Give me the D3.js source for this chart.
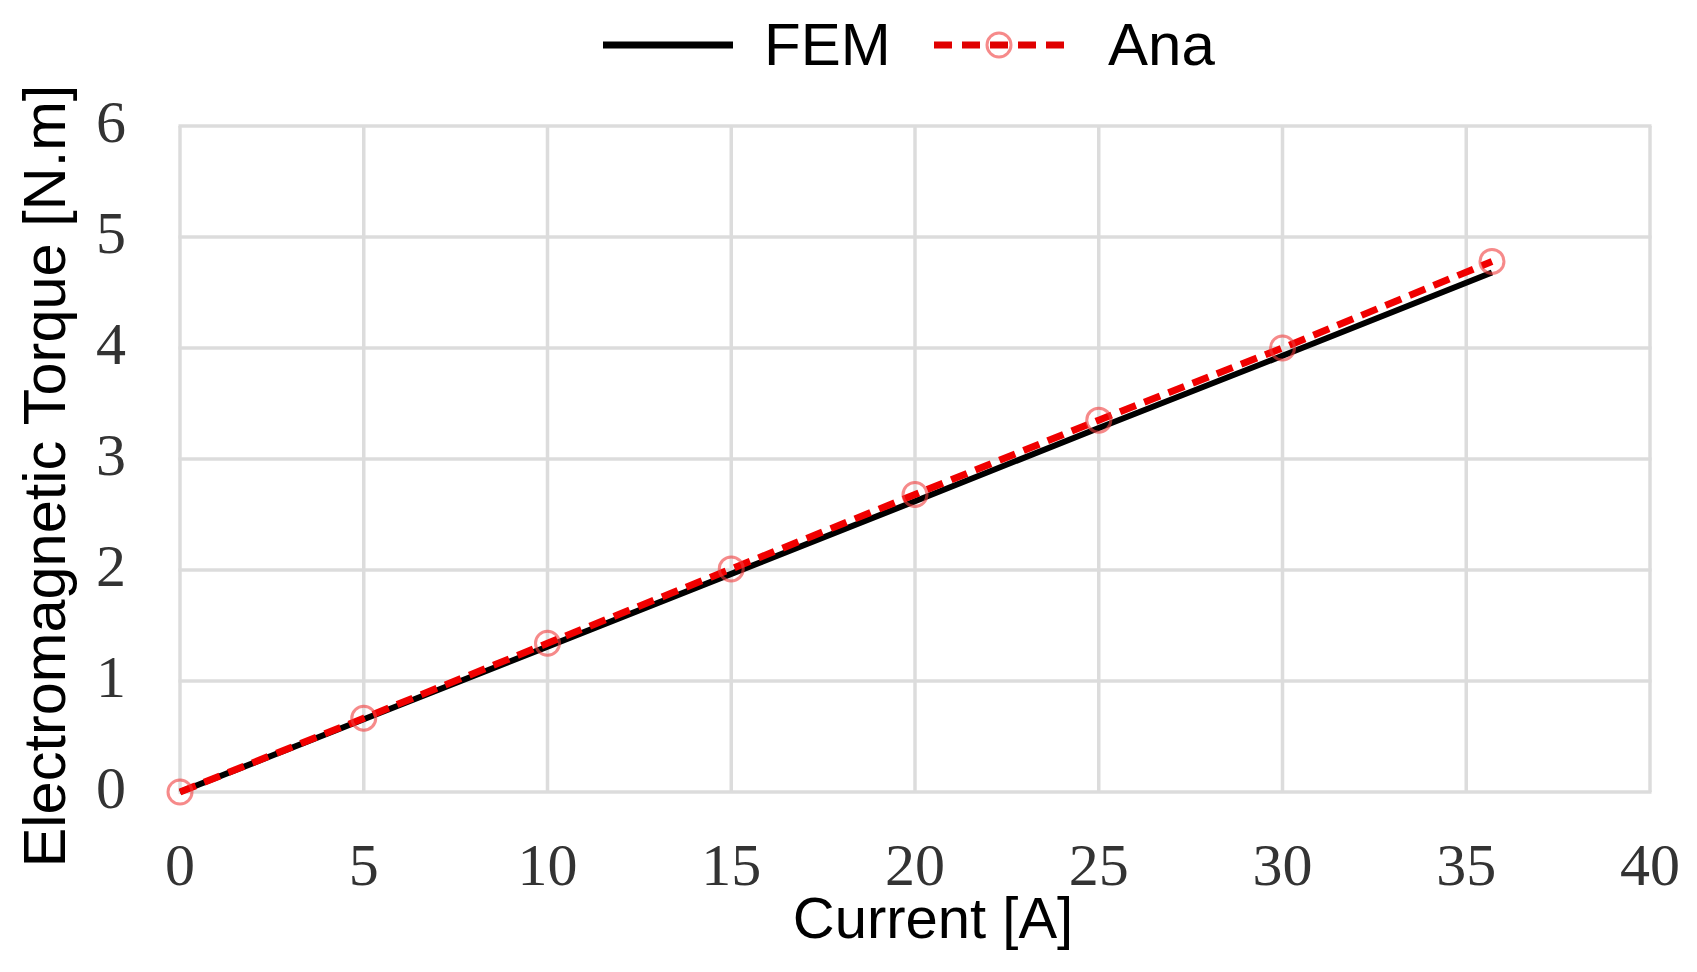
<!DOCTYPE html>
<html>
<head>
<meta charset="utf-8">
<script src="https://cdn.jsdelivr.net/npm/d3@7"></script>
<style>
  html, body { margin: 0; padding: 0; background: #fff; }
  #chart { width: 1697px; height: 972px; }
</style>
</head>
<body>
<div id="chart"></div>
<script>
// values
const currents = [0, 5, 10, 15, 20, 25, 30, 35.7];
const femTorque = [0, 0.655, 1.31, 1.965, 2.62, 3.28, 3.93, 4.68];
const anaTorque = [0, 0.665, 1.34, 2.01, 2.68, 3.35, 4.0, 4.78];
const xTicks = [0, 5, 10, 15, 20, 25, 30, 35, 40];
const yTicks = [0, 1, 2, 3, 4, 5, 6];

function buildChart() {
    const width = 1697, height = 972;
    const margin = { left: 180, right: 47, top: 126, bottom: 180 };

    const svg = d3.select("#chart")
        .append("svg")
        .attr("width", width)
        .attr("height", height);

    const x = d3.scaleLinear().domain([0, 40]).range([margin.left, width - margin.right]);
    const y = d3.scaleLinear().domain([0, 6]).range([height - margin.bottom, margin.top]);

    // grid
    const grid = svg.append("g").attr("stroke", "#dcdcdc").attr("stroke-width", 3.5);
    grid.selectAll(".gx")
        .data(xTicks)
        .enter().append("line")
        .attr("x1", d => x(d)).attr("x2", d => x(d))
        .attr("y1", y(0)).attr("y2", y(6));
    grid.selectAll(".gy")
        .data(yTicks)
        .enter().append("line")
        .attr("x1", x(0) - 1.5).attr("x2", x(40) + 1.5)
        .attr("y1", d => y(d)).attr("y2", d => y(d));

    // tick labels
    svg.append("g").selectAll("text")
        .data(xTicks)
        .enter().append("text")
        .attr("x", d => x(d))
        .attr("y", 885)
        .attr("text-anchor", "middle")
        .attr("font-family", "Liberation Serif, Times New Roman, serif")
        .attr("font-size", 60)
        .attr("fill", "#333")
        .text(d => d);

    svg.append("g").selectAll("text")
        .data(yTicks)
        .enter().append("text")
        .attr("x", 126)
        .attr("y", d => y(d) + 16)
        .attr("text-anchor", "end")
        .attr("font-family", "Liberation Serif, Times New Roman, serif")
        .attr("font-size", 60)
        .attr("fill", "#333")
        .text(d => d);

    // axis titles
    svg.append("text")
        .attr("x", 933)
        .attr("y", 938)
        .attr("text-anchor", "middle")
        .attr("font-family", "Liberation Sans, Arial, sans-serif")
        .attr("font-size", 58)
        .text("Current [A]");

    svg.append("text")
        .attr("transform", "translate(65,476) rotate(-90)")
        .attr("text-anchor", "middle")
        .attr("font-family", "Liberation Sans, Arial, sans-serif")
        .attr("font-size", 59.5)
        .text("Electromagnetic Torque [N.m]");

    const line = d3.line()
        .x(d => x(d[0]))
        .y(d => y(d[1]));

    const femData = currents.map((c, i) => [c, femTorque[i]]);
    const anaData = currents.map((c, i) => [c, anaTorque[i]]);

    svg.append("path")
        .datum(femData)
        .attr("fill", "none")
        .attr("stroke", "#000")
        .attr("stroke-width", 6)
        .attr("d", line);

    svg.append("path")
        .datum(anaData)
        .attr("fill", "none")
        .attr("stroke", "#f00000")
        .attr("stroke-width", 7)
        .attr("stroke-dasharray", "17,9")
        .attr("d", line);

    svg.append("g").selectAll("circle")
        .data(anaData)
        .enter().append("circle")
        .attr("cx", d => x(d[0]))
        .attr("cy", d => y(d[1]))
        .attr("r", 12)
        .attr("fill", "none")
        .attr("stroke", "rgba(240,60,60,0.6)")
        .attr("stroke-width", 3);

    // legend
    const legend = svg.append("g");
    legend.append("line")
        .attr("x1", 603).attr("x2", 733)
        .attr("y1", 45).attr("y2", 45)
        .attr("stroke", "#000").attr("stroke-width", 7);
    legend.append("text")
        .attr("x", 764).attr("y", 65)
        .attr("font-family", "Liberation Sans, Arial, sans-serif")
        .attr("font-size", 60)
        .text("FEM");
    legend.append("line")
        .attr("x1", 934).attr("x2", 1066)
        .attr("y1", 45).attr("y2", 45)
        .attr("stroke", "#e00000").attr("stroke-width", 7)
        .attr("stroke-dasharray", "18,10");
    legend.append("circle")
        .attr("cx", 999).attr("cy", 45).attr("r", 12)
        .attr("fill", "none")
        .attr("stroke", "rgba(240,60,60,0.6)")
        .attr("stroke-width", 3);
    legend.append("text")
        .attr("x", 1108).attr("y", 65)
        .attr("font-family", "Liberation Sans, Arial, sans-serif")
        .attr("font-size", 60)
        .text("Ana");
}

window.addEventListener("load", () => {
    buildChart();
});
</script>
</body>
</html>
